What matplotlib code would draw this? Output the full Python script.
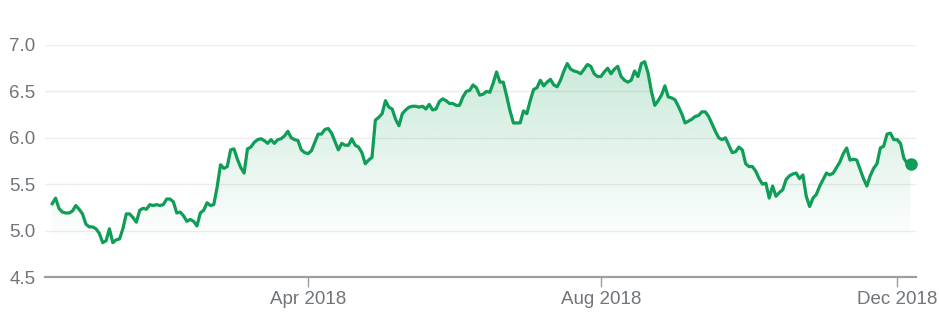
import numpy as np
import pandas as pd
import matplotlib
matplotlib.use("Agg")
import matplotlib.pyplot as plt

plt.rcParams['font.family'] = ['Liberation Sans', 'DejaVu Sans']

# ---- data ----
start_date = '2017-12-15'
end_date = '2018-12-07'
values = [
    5.29, 5.35, 5.24, 5.20, 5.19, 5.19, 5.21, 5.27, 5.23, 5.18,
    5.07, 5.04, 5.04, 5.02, 4.97, 4.87, 4.89, 5.02, 4.87, 4.90,
    4.91, 5.02, 5.18, 5.18, 5.14, 5.09, 5.22, 5.24, 5.23, 5.28,
    5.27, 5.28, 5.27, 5.28, 5.34, 5.34, 5.31, 5.19, 5.20, 5.16,
    5.10, 5.12, 5.10, 5.05, 5.19, 5.22, 5.30, 5.27, 5.28, 5.47,
    5.71, 5.67, 5.69, 5.87, 5.88, 5.77, 5.68, 5.62, 5.88, 5.90,
    5.95, 5.98, 5.99, 5.97, 5.94, 5.98, 5.94, 5.98, 5.99, 6.02,
    6.07, 6.00, 5.98, 5.97, 5.87, 5.84, 5.83, 5.86, 5.95, 6.04,
    6.04, 6.09, 6.10, 6.05, 5.96, 5.87, 5.94, 5.92, 5.92, 5.99,
    5.92, 5.90, 5.84, 5.72, 5.76, 5.79, 6.19, 6.22, 6.26, 6.40,
    6.33, 6.31, 6.20, 6.13, 6.26, 6.30, 6.33, 6.34, 6.34, 6.33,
    6.34, 6.31, 6.36, 6.30, 6.31, 6.39, 6.42, 6.40, 6.37, 6.37,
    6.35, 6.35, 6.44, 6.50, 6.51, 6.57, 6.54, 6.46, 6.47, 6.50,
    6.49, 6.59, 6.71, 6.60, 6.60, 6.45, 6.29, 6.16, 6.16, 6.16,
    6.29, 6.26, 6.40, 6.52, 6.54, 6.62, 6.56, 6.60, 6.63, 6.57,
    6.55, 6.62, 6.72, 6.80, 6.74, 6.72, 6.71, 6.69, 6.74, 6.79,
    6.77, 6.69, 6.66, 6.66, 6.71, 6.75, 6.69, 6.74, 6.77, 6.66,
    6.62, 6.60, 6.62, 6.72, 6.66, 6.80, 6.82, 6.70, 6.50, 6.35,
    6.40, 6.46, 6.56, 6.44, 6.43, 6.41, 6.34, 6.26, 6.16, 6.18,
    6.20, 6.23, 6.24, 6.28, 6.28, 6.23, 6.15, 6.07, 6.00, 5.98,
    6.00, 5.92, 5.84, 5.85, 5.90, 5.87, 5.72, 5.69, 5.69, 5.64,
    5.56, 5.50, 5.51, 5.35, 5.48, 5.37, 5.41, 5.44, 5.55, 5.59,
    5.61, 5.62, 5.56, 5.60, 5.37, 5.26, 5.35, 5.39, 5.48, 5.55,
    5.62, 5.60, 5.62, 5.68, 5.74, 5.83, 5.89, 5.76, 5.77, 5.76,
    5.66, 5.56, 5.48, 5.59, 5.67, 5.72, 5.89, 5.91, 6.04, 6.05,
    5.98, 5.98, 5.94, 5.78, 5.72, 5.72,
]
tick_months = ['2018-04', '2018-08', '2018-12']
y_ticks = [4.5, 5.0, 5.5, 6.0, 6.5, 7.0]

dates = pd.bdate_range(start_date, end_date)
n = min(len(dates), len(values))
dates = dates[:n]
vals = np.array(values[:n])
x = np.arange(n)

GREEN = '#0f9d58'
GRAY_TXT = '#70757a'

fig = plt.figure(figsize=(9.39, 3.27), dpi=100)
ax = fig.add_axes([45 / 939, 1 - 277 / 327, (916 - 45) / 939, (277 - 45) / 327])

# gradient fill under the line
poly = ax.fill_between(x, vals, y_ticks[0], color='none', lw=0)
ny = 300
yy = np.linspace(7.0, 4.5, ny)
alpha = np.clip((yy - 4.85) / (7.0 - 4.85), 0, 1) * 0.24
img = np.zeros((ny, 1, 4))
img[..., 0] = 15 / 255
img[..., 1] = 157 / 255
img[..., 2] = 88 / 255
img[:, 0, 3] = alpha
im = ax.imshow(img, extent=[x[0], x[-1], 4.5, 7.0], aspect='auto',
               origin='upper', zorder=1, interpolation='bilinear')
im.set_clip_path(poly.get_paths()[0], transform=ax.transData)

# grid lines
for yv in y_ticks[1:]:
    ax.axhline(yv, color='#ececec', lw=1, zorder=0)
ax.axhline(y_ticks[0], color='#9e9e9e', lw=1.6, zorder=2, clip_on=False)

ax.plot(x, vals, color=GREEN, lw=2.3, zorder=3, solid_joinstyle='round')
ax.plot(x[-1], vals[-1], 'o', ms=8, color=GREEN, zorder=4, clip_on=False)

ax.set_xlim(-2.14, 256.6)
ax.set_ylim(4.5, 7.0)

for s in ax.spines.values():
    s.set_visible(False)

ax.set_yticks(y_ticks)
ax.set_yticklabels([f'{v:.1f}' for v in y_ticks])
ax.tick_params(axis='y', length=0, pad=7, labelsize=13.5, labelcolor=GRAY_TXT)

month_str = dates.strftime('%Y-%m')
tick_pos = [int(np.argmax(month_str == m)) for m in tick_months]
ax.set_xticks(tick_pos)
ax.set_xticklabels([dates[i].strftime('%b %Y') for i in tick_pos])
ax.tick_params(axis='x', length=7, width=1, color='#9e9e9e', pad=3,
               labelsize=13.5, labelcolor=GRAY_TXT)

fig.savefig('out.png', dpi=100)
